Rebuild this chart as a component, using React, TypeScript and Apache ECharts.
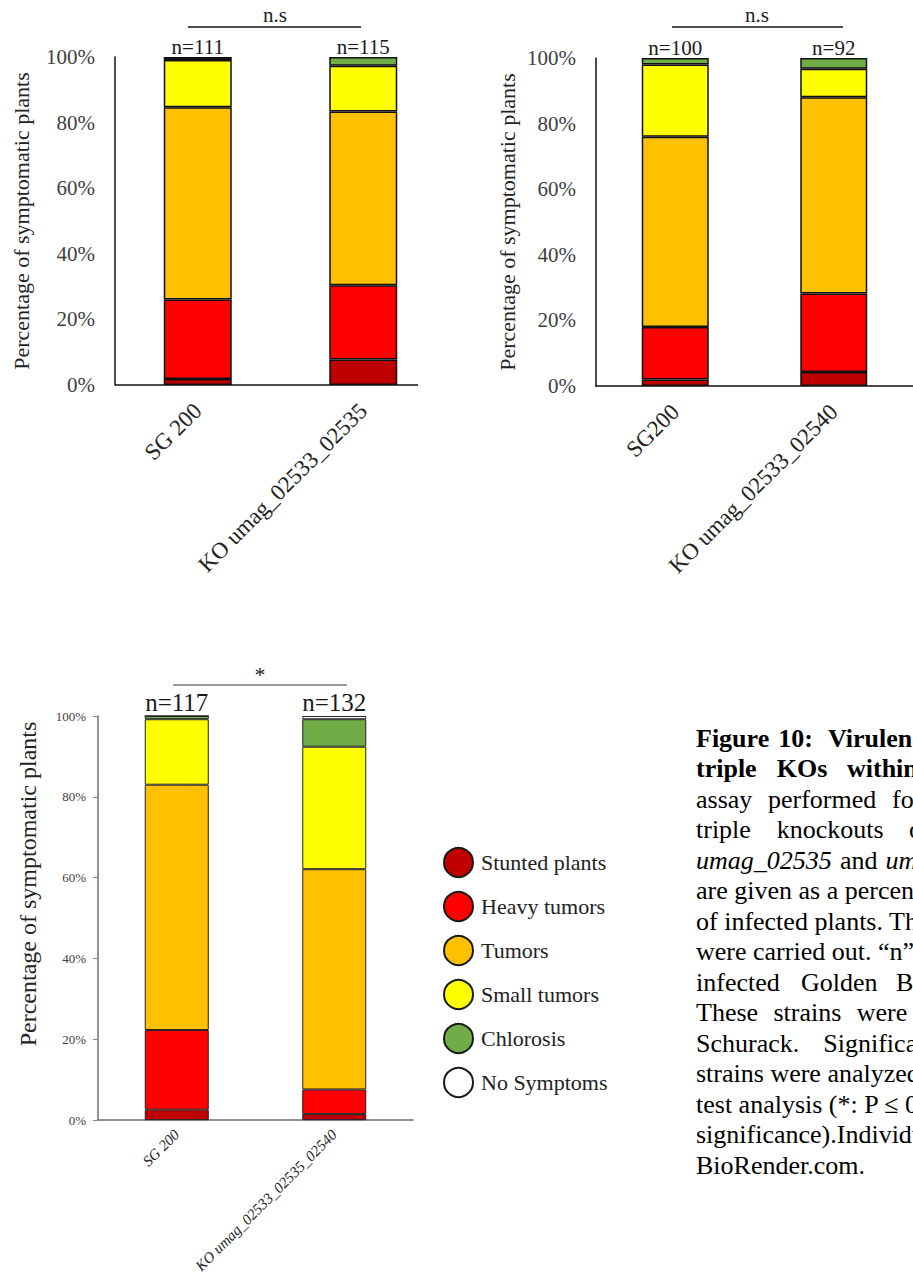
import React, { useEffect, useRef } from "react";
import * as echarts from "echarts";

// ---------- data ----------
const seriesNames = ["Stunted plants", "Heavy tumors", "Tumors", "Small tumors", "Chlorosis", "No Symptoms"];
const seriesColors = ["#C00000", "#FF0000", "#FFC000", "#FFFF00", "#70AD47", "#FFFFFF"];

// Chart A (top left)
const chartACategories = ["SG 200", "KO umag_02533_02535"];
const chartANLabels = ["n=111", "n=115"];
const chartAStunted = [1.8, 7.8];
const chartAHeavy = [24.3, 22.6];
const chartATumors = [58.6, 53.0];
const chartASmall = [14.4, 13.9];
const chartAChlorosis = [0.9, 2.7];

// Chart B (top right)
const chartBCategories = ["SG200", "KO umag_02533_02540"];
const chartBNLabels = ["n=100", "n=92"];
const chartBStunted = [2.0, 4.3];
const chartBHeavy = [16.0, 23.9];
const chartBTumors = [58.0, 59.8];
const chartBSmall = [22.0, 8.7];
const chartBChlorosis = [2.0, 3.3];

// Chart C (bottom)
const chartCCategories = ["SG 200", "KO umag_02533_02535_02540"];
const chartCNLabels = ["n=117", "n=132"];
const chartCStunted = [2.6, 1.5];
const chartCHeavy = [19.7, 6.1];
const chartCTumors = [60.7, 54.5];
const chartCSmall = [16.2, 30.3];
const chartCChlorosis = [0.8, 6.8];
const chartCNone = [0, 0.8];

const yTitle = "Percentage of symptomatic plants";

// caption lines: segments [text, x, bold, italic]
const captionLines: [string, number, boolean, boolean][][] = [
  [["Figure", 696, true, false], ["10:", 778.3, true, false], ["Virulence", 828, true, false]],
  [["triple", 696, true, false], ["KOs", 776.7, true, false], ["within", 847, true, false]],
  [["assay", 696, false, false], ["performed", 768, false, false], ["for", 892, false, false]],
  [["triple", 696, false, false], ["knockouts", 776.7, false, false], ["of", 909, false, false]],
  [["umag_02535", 696, false, true], ["and", 840, false, false], ["umag_02540", 885.5, false, true]],
  [["are given as a percentage", 696, false, false]],
  [["of infected plants. Three", 696, false, false]],
  [["were carried out. \u201cn\u201d represents", 696, false, false]],
  [["infected", 696, false, false], ["Golden", 801, false, false], ["Bantam", 896, false, false]],
  [["These", 696, false, false], ["strains", 773.4, false, false], ["were", 856.7, false, false]],
  [["Schurack.", 696, false, false], ["Significance", 823.3, false, false]],
  [["strains were analyzed by", 696, false, false]],
  [["test analysis (*: P \u2264 0.05", 696, false, false]],
  [["significance).Individual", 696, false, false]],
  [["BioRender.com.", 696, false, false]],
];

const FONT = "Liberation Serif";

function buildStack(g: number, cols: number[][], nLabels: string[], barWidth: number, borderWidth: number, borderColor: string, labelSize: number, labelDist: number) {
  return cols.map((col, i) => {
    const last = i === cols.length - 1;
    return {
      type: "bar",
      name: seriesNames[i],
      xAxisIndex: g,
      yAxisIndex: g,
      stack: "s" + g,
      barWidth,
      data: col,
      itemStyle: { color: seriesColors[i], borderColor, borderWidth },
      emphasis: { disabled: true },
      label: last
        ? { show: true, position: "top", distance: labelDist, formatter: (p: any) => nLabels[p.dataIndex], fontFamily: FONT, fontSize: labelSize, color: "#1a1a1a" }
        : { show: false },
    };
  });
}

export default function App() {
  const ref = useRef<HTMLDivElement>(null);
  useEffect(() => {
    if (!ref.current) return;
    const chart = echarts.init(ref.current, null, { renderer: "svg" });

    const topYAxis = (g: number, gap: number) => ({
      type: "value", gridIndex: g, min: 0, max: 100, interval: 20,
      splitLine: { show: false },
      axisLine: { show: true, lineStyle: { color: "#111", width: 1.5 } },
      axisTick: { show: false },
      axisLabel: { formatter: "{value}%", margin: 20, fontFamily: FONT, fontSize: 21, color: "#404040" },
      name: yTitle, nameLocation: "middle", nameGap: gap,
      nameTextStyle: { fontFamily: FONT, fontSize: 22, color: "#222" },
    });

    const topXAxis = (g: number, cats: string[], showLine: boolean) => ({
      type: "category", gridIndex: g, data: cats,
      axisLine: { show: showLine, lineStyle: { color: "#111", width: 1.5 } },
      axisTick: { show: false },
      axisLabel: { interval: 0, rotate: 45, margin: 22, fontFamily: FONT, fontSize: 23, color: "#222" },
    });

    const graphics: any[] = [
      { type: "line", shape: { x1: 115, y1: 385, x2: 418, y2: 385 }, style: { stroke: "#111", lineWidth: 1.5 } },
      { type: "line", shape: { x1: 188, y1: 27, x2: 361, y2: 27 }, style: { stroke: "#111", lineWidth: 1.5 } },
      { type: "text", x: 275, y: 15, style: { text: "n.s", fontFamily: FONT, fontSize: 21, fill: "#222", textAlign: "center", textVerticalAlign: "middle" } },
      { type: "line", shape: { x1: 672, y1: 27, x2: 843, y2: 27 }, style: { stroke: "#111", lineWidth: 1.5 } },
      { type: "text", x: 757, y: 15, style: { text: "n.s", fontFamily: FONT, fontSize: 21, fill: "#222", textAlign: "center", textVerticalAlign: "middle" } },
      { type: "line", shape: { x1: 173, y1: 685, x2: 347, y2: 685 }, style: { stroke: "#333", lineWidth: 1 } },
      { type: "text", x: 260, y: 674, style: { text: "*", fontFamily: FONT, fontSize: 22, fill: "#222", textAlign: "center", textVerticalAlign: "middle" } },
      { type: "text", x: 28, y: 884, rotation: Math.PI / 2, style: { text: yTitle, fontFamily: FONT, fontSize: 24, fill: "#222", textAlign: "center", textVerticalAlign: "middle" } },
    ];

    captionLines.forEach((line, i) => {
      const baseline = 747 + i * 30.5;
      line.forEach(([t, x, bold, italic]) => {
        graphics.push({
          type: "text", x, y: baseline - 8.8,
          style: { text: t, fontFamily: FONT, fontSize: 26, fontWeight: bold ? "bold" : "normal", fontStyle: italic ? "italic" : "normal", fill: "#000", textAlign: "left", textVerticalAlign: "middle" },
        });
      });
    });

    const option: any = {
      animation: false,
      backgroundColor: "#fff",
      textStyle: { fontFamily: FONT },
      grid: [
        { left: 115, top: 57, width: 331, height: 328 },
        { left: 596, top: 58, width: 333, height: 328 },
        { left: 98, top: 716, width: 315, height: 409 },
      ],
      xAxis: [
        topXAxis(0, chartACategories, false),
        topXAxis(1, chartBCategories, true),
        {
          type: "category", gridIndex: 2, data: chartCCategories,
          axisLine: { show: true, lineStyle: { color: "#6e6e6e", width: 1.5 } },
          axisTick: { show: false },
          axisLabel: { interval: 0, rotate: 45, margin: 12, fontFamily: FONT, fontSize: 15, fontStyle: "italic", color: "#222" },
        },
      ],
      yAxis: [
        topYAxis(0, 83),
        topYAxis(1, 78),
        {
          type: "value", gridIndex: 2, min: 0, max: 100, interval: 20,
          splitLine: { show: false },
          axisLine: { show: true, lineStyle: { color: "#6e6e6e", width: 1.5 } },
          axisTick: { show: true, length: 5, lineStyle: { color: "#888" } },
          axisLabel: { formatter: "{value}%", margin: 12, fontFamily: FONT, fontSize: 13, color: "#404040" },
        },
      ],
      legend: {
        orient: "vertical", left: 438, top: 842, itemWidth: 29, itemHeight: 29, itemGap: 13,
        selectedMode: false,
        data: seriesNames.map((n) => ({ name: n, icon: "circle" })),
        itemStyle: { borderColor: "#1a1a1a", borderWidth: 2 },
        textStyle: { fontFamily: FONT, fontSize: 22, color: "#222", padding: [0, 0, 0, 3] },
      },
      series: [
        ...buildStack(0, [chartAStunted, chartAHeavy, chartATumors, chartASmall, chartAChlorosis], chartANLabels, 68, 1.5, "#111", 21, 0),
        ...buildStack(1, [chartBStunted, chartBHeavy, chartBTumors, chartBSmall, chartBChlorosis], chartBNLabels, 67, 1.5, "#111", 21, 0),
        ...buildStack(2, [chartCStunted, chartCHeavy, chartCTumors, chartCSmall, chartCChlorosis, chartCNone], chartCNLabels, 64, 1, "#222", 25, 1),
      ],
      graphic: graphics,
    };
    chart.setOption(option);
    return () => chart.dispose();
  }, []);

  return <div ref={ref} style={{ position: "absolute", left: 0, top: 0, width: 913, height: 1276, background: "#fff" }} />;
}
